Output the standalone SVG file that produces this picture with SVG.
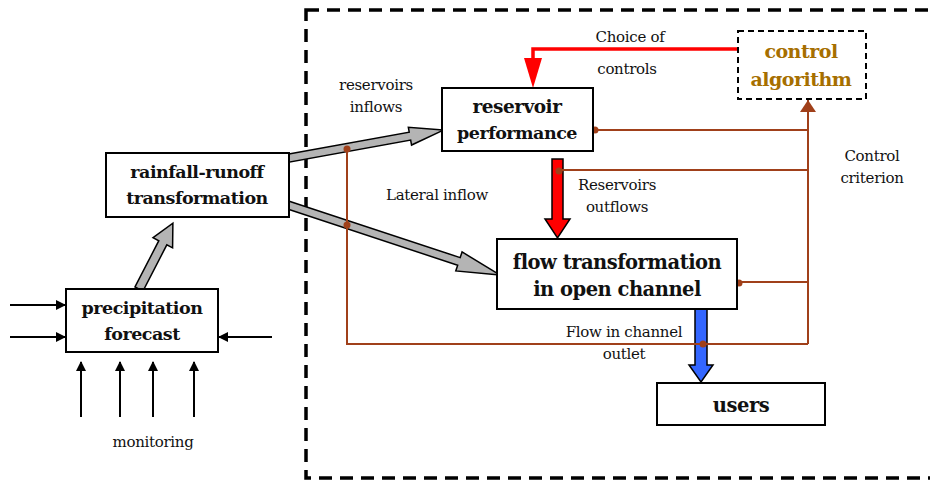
<svg xmlns="http://www.w3.org/2000/svg" width="930" height="481" viewBox="0 0 930 481">
<style>
.box{fill:#fff;stroke:#000;stroke-width:2}
.t{font-family:'DejaVu Serif',serif;font-size:17.5px;font-weight:bold;text-anchor:middle;fill:#111;letter-spacing:-0.5px}
.l{font-family:'DejaVu Serif',serif;font-size:15px;text-anchor:middle;fill:#111;letter-spacing:-0.3px}
.br{stroke:#A0401A;stroke-width:2;fill:none}
.dot{fill:#A0401A}
.blk{stroke:#000;stroke-width:2;fill:none}
.gray{fill:#B4B4B4;stroke:#000;stroke-width:1.5}
</style>
<defs>
<marker id="ah" markerWidth="10" markerHeight="10" refX="9" refY="5" orient="auto" markerUnits="userSpaceOnUse" viewBox="0 0 10 10">
<path d="M0,0 L10,5 L0,10 z" fill="#000"/>
</marker>
<marker id="ahb" markerWidth="12" markerHeight="16" refX="12" refY="8" orient="auto" markerUnits="userSpaceOnUse" viewBox="0 0 12 16">
<path d="M0,0 L12,8 L0,16 z" fill="#A0401A"/>
</marker>
</defs>
<rect width="930" height="481" fill="#fff"/>
<rect x="306" y="10" width="640" height="468" fill="none" stroke="#000" stroke-width="3.5" stroke-dasharray="13,8"/>

<g id="connectors">
<line class="blk" x1="10" y1="305" x2="65" y2="305" marker-end="url(#ah)"/>
<line class="blk" x1="10" y1="337" x2="65" y2="337" marker-end="url(#ah)"/>
<line class="blk" x1="272" y1="337" x2="219" y2="337" marker-end="url(#ah)"/>
<line class="blk" x1="81" y1="417" x2="81" y2="362" marker-end="url(#ah)"/>
<line class="blk" x1="120" y1="417" x2="120" y2="362" marker-end="url(#ah)"/>
<line class="blk" x1="153" y1="417" x2="153" y2="362" marker-end="url(#ah)"/>
<line class="blk" x1="194" y1="417" x2="194" y2="362" marker-end="url(#ah)"/>
<polygon class="gray" transform="translate(139,289) rotate(-62.75)" points="0,-4.5 52,-4.5 52,-11 74,0 52,11 52,4.5 0,4.5"/>
<polygon class="gray" transform="translate(284,159) rotate(-10.27)" points="0,-4 128,-4 128,-9 162,0 128,9 128,4 0,4"/>
<polygon class="gray" transform="translate(288,205) rotate(18.27)" points="0,-4 180,-4 180,-10 223,0 180,10 180,4 0,4"/>
<polyline points="738,49 533,49 533,60" fill="none" stroke="#FF0000" stroke-width="3.5"/>
<path d="M524,58 L542,58 L533,88 z" fill="#FF0000"/>
<path d="M552,159 L563,159 L563,219 L570,219 L557.5,238 L545,219 L552,219 z" fill="#FF0000" stroke="#000" stroke-width="1.5"/>
<path d="M695,309 L707,309 L707,365 L713,365 L701,382 L689,365 L695,365 z" fill="#3366FF" stroke="#000" stroke-width="1.5"/>
<line class="br" x1="595" y1="130" x2="808" y2="130"/>
<line class="br" x1="559" y1="170" x2="808" y2="170"/>
<line class="br" x1="738" y1="282" x2="808" y2="282"/>
<polyline class="br" points="347,148 347,344 808,344"/>
<line class="br" x1="808" y1="344" x2="808" y2="100" marker-end="url(#ahb)"/>
<circle class="dot" cx="595" cy="130" r="3.5"/>
<circle class="dot" cx="559" cy="171" r="3.5"/>
<circle class="dot" cx="739" cy="283" r="3.5"/>
<circle class="dot" cx="703" cy="344" r="3.5"/>
<circle class="dot" cx="347" cy="149" r="3.5"/>
<circle class="dot" cx="347" cy="225" r="3.5"/>
</g>

<g id="rainfall">
<rect class="box" x="106" y="153" width="183" height="64"/>
<text class="t" x="197" y="178">rainfall-runoff</text>
<text class="t" x="197" y="204">transformation</text>
</g>
<g id="precipitation">
<rect class="box" x="66" y="289" width="152" height="63"/>
<text class="t" x="142" y="314">precipitation</text>
<text class="t" x="142" y="340">forecast</text>
</g>
<g id="reservoir">
<rect class="box" x="442" y="88" width="151" height="63"/>
<text class="t" x="517" y="113" style="font-size:18.5px">reservoir</text>
<text class="t" x="517" y="139">performance</text>
</g>
<g id="control">
<rect x="738" y="31" width="128" height="68" fill="#fff" stroke="#000" stroke-width="2" stroke-dasharray="6,4"/>
<text class="t" x="801" y="58" style="fill:#A66F00;font-size:19px">control</text>
<text class="t" x="801" y="86" style="fill:#A66F00;font-size:19px">algorithm</text>
</g>
<g id="flow">
<rect class="box" x="497" y="239" width="240" height="70"/>
<text class="t" x="617" y="269" style="font-size:19.5px">flow transformation</text>
<text class="t" x="617" y="296" style="font-size:19.5px">in open channel</text>
</g>
<g id="users">
<rect class="box" x="657" y="383" width="168" height="42"/>
<text class="t" x="741" y="412" style="font-size:19.5px">users</text>
</g>

<g id="labels">
<text class="l" x="153" y="447">monitoring</text>
<text class="l" x="376" y="90">reservoirs</text>
<text class="l" x="376" y="112">inflows</text>
<text class="l" x="630" y="42">Choice of</text>
<text class="l" x="627" y="74">controls</text>
<text class="l" x="437" y="200">Lateral inflow</text>
<text class="l" x="617" y="190">Reservoirs</text>
<text class="l" x="617" y="212">outflows</text>
<text class="l" x="872" y="161">Control</text>
<text class="l" x="872" y="183">criterion</text>
<text class="l" x="624" y="337">Flow in channel</text>
<text class="l" x="624" y="359">outlet</text>
</g>
</svg>
